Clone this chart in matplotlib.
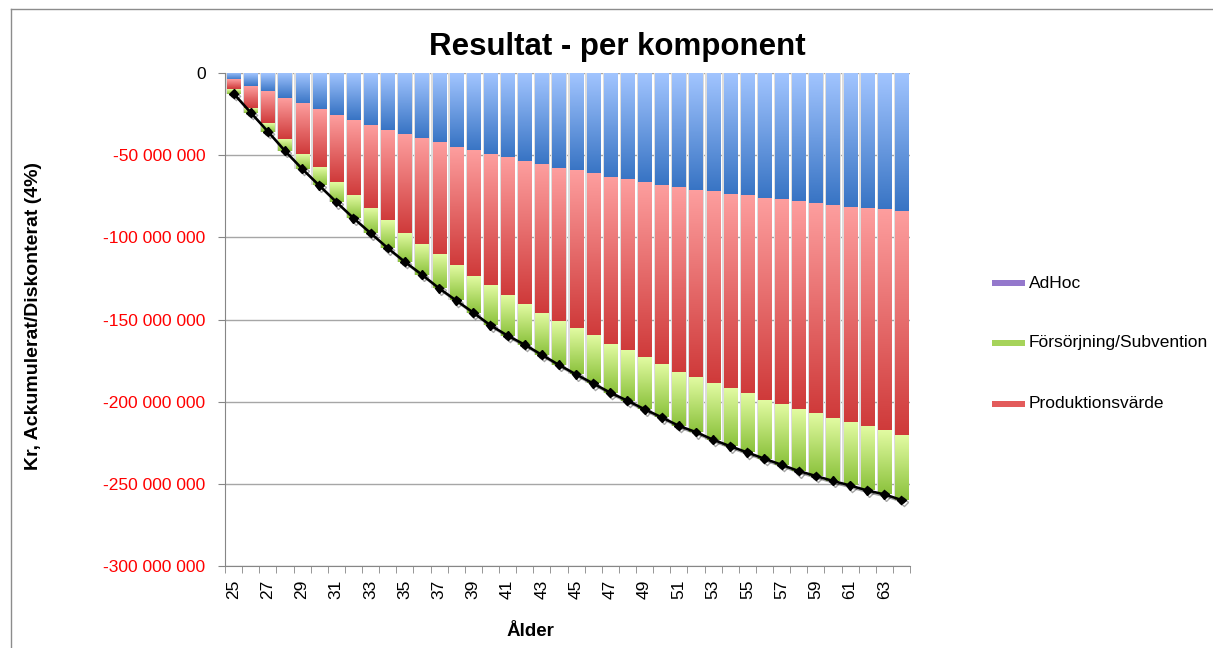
import numpy as np
import matplotlib
matplotlib.use("Agg")
import matplotlib.pyplot as plt
from matplotlib.colors import LinearSegmentedColormap
from matplotlib.patches import Rectangle
from matplotlib.lines import Line2D
import matplotlib.patheffects as pe

plt.rcParams['font.family'] = ['Liberation Sans', 'DejaVu Sans']

# ---------------- data (millions of kr, per age) ----------------
ages = list(range(25, 65))

# blue component (not shown in legend)
blue_vals = [-4.3, -7.9, -11.5, -15.4, -18.8, -22.3, -25.7, -28.5, -32.0, -34.8,
             -37.4, -39.9, -42.7, -44.9, -47.2, -49.4, -51.8, -53.8, -56.1, -58.1,
             -59.5, -61.5, -63.6, -65.2, -66.4, -68.0, -69.6, -70.9, -72.5, -73.7,
             -74.9, -76.1, -77.1, -78.1, -79.4, -80.4, -81.6, -82.6, -83.2, -84.2]

produktionsvarde = [-5.6, -13.2, -19.1, -24.7, -30.6, -35.6, -40.7, -46.2, -50.6, -55.1,
                    -60.1, -64.2, -68.2, -72.4, -76.4, -80.3, -83.5, -86.7, -90.1, -93.2,
                    -96.3, -98.7, -101.2, -103.5, -106.9, -109.5, -112.5, -114.4, -116.3, -118.5,
                    -120.5, -122.9, -124.5, -126.5, -128.0, -129.6, -131.3, -132.7, -134.7, -136.1]

forsorjning = [-2.6, -3.0, -5.0, -7.3, -8.9, -10.5, -12.1, -13.6, -14.8, -16.6,
               -17.4, -18.6, -20.1, -21.1, -22.2, -23.8, -24.5, -24.8, -25.3, -26.3,
               -27.6, -28.7, -29.7, -30.7, -31.3, -32.0, -32.6, -33.2, -34.3, -34.9,
               -35.5, -35.7, -36.8, -37.6, -37.8, -38.2, -38.1, -38.7, -38.5, -39.5]

adhoc = [0.0] * 40

ytick_vals = [0, -50, -100, -150, -200, -250, -300]
xtick_ages = list(range(25, 64, 2))

title = "Resultat - per komponent"
xlabel = "Ålder"
ylabel = "Kr, Ackumulerat/Diskonterat (4%)"
legend_labels = ["AdHoc", "Försörjning/Subvention", "Produktionsvärde"]

# ---------------- figure ----------------
W, H = 1213, 648
fig = plt.figure(figsize=(W / 100, H / 100), dpi=100)
fig.patch.set_facecolor('white')
ax = fig.add_axes([225 / W, 1 - 566 / H, (910 - 225) / W, (566 - 73) / H])

x = np.arange(len(ages))
scale = 1e6
bw = 0.76

segments = [
    (blue_vals, '#a2c5ff', '#3874c4'),
    (produktionsvarde, '#fd9e9e', '#cf3a3a'),
    (forsorjning, '#e2fba2', '#8bc23c'),
    (adhoc, '#b9a3e8', '#7c5fb8'),
]

grad = np.linspace(0, 1, 128)[:, None]
bottom = np.zeros(len(x))
for vals, ctop, cbot in segments:
    v = np.array(vals) * scale
    cmap = LinearSegmentedColormap.from_list('g', [ctop, cbot])
    for xi, b0, h in zip(x, bottom, v):
        if h == 0:
            continue
        ax.imshow(grad, cmap=cmap, extent=(xi - bw / 2, xi + bw / 2, b0 + h, b0),
                  aspect='auto', origin='upper', interpolation='bilinear', zorder=2)
    bottom = bottom + v

total = bottom
# light grey bar edges
ax.bar(x, total, width=0.9, color='#dcdcdc', linewidth=0, zorder=1.5)

ax.plot(x, total, color='black', lw=1.8, marker='D', ms=4.5, zorder=4,
        path_effects=[pe.SimpleLineShadow(offset=(1.5, -1.5), shadow_color='black', alpha=0.35),
                      pe.Normal()])

ax.set_xlim(-0.5, len(x) - 0.5)
ax.set_ylim(-300 * scale, 0)

# y axis
yt = np.array(ytick_vals) * scale
ax.set_yticks(yt)
ylabels = [f"{int(v * 1e6):,}".replace(",", " ") if v != 0 else "0" for v in ytick_vals]
ax.set_yticklabels(ylabels, fontsize=12.5)
for lab, v in zip(ax.get_yticklabels(), ytick_vals):
    lab.set_color('black' if v == 0 else '#ff0000')
ax.tick_params(axis='y', length=5, color='#868686', pad=9)
ax.yaxis.grid(True, color='#a6a6a6', lw=1)
ax.set_axisbelow(True)

# x axis
ax.set_xticks([ages.index(a) for a in xtick_ages])
ax.set_xticklabels([str(a) for a in xtick_ages], rotation=90, fontsize=12.5)
ax.set_xticks(np.arange(-0.5, len(x), 1), minor=True)
ax.tick_params(axis='x', which='major', length=0, pad=10)
ax.tick_params(axis='x', which='minor', length=5, color='#868686')

for s in ['top', 'right']:
    ax.spines[s].set_visible(False)
for s in ['left', 'bottom']:
    ax.spines[s].set_color('#868686')

# texts
fig.text(617 / W, 1 - 47 / H, title, ha='center', va='center', fontsize=22.5, fontweight='bold')
fig.text(530 / W, 1 - 632 / H, xlabel, ha='center', va='center', fontsize=13.5, fontweight='bold')
fig.text(34 / W, 1 - 316 / H, ylabel, ha='center', va='center', rotation=90,
         fontsize=14, fontweight='bold')

# legend (manual)
leg_colors = ['#9478cc', '#a6d35a', '#e35b5b']
leg_y = [283, 343, 404]
for lab, c, yy in zip(legend_labels, leg_colors, leg_y):
    fig.add_artist(Rectangle((992 / W, 1 - (yy + 3) / H), 33 / W, 6 / H,
                             transform=fig.transFigure, facecolor=c, edgecolor='none'))
    fig.text(1029 / W, 1 - yy / H, lab, ha='left', va='center', fontsize=12.5)

# chart border (left & top visible)
fig.add_artist(Line2D([11 / W, 11 / W], [0, 1 - 9 / H], transform=fig.transFigure,
                      color='#8c8c8c', lw=1))
fig.add_artist(Line2D([11 / W, 1], [1 - 9 / H, 1 - 9 / H], transform=fig.transFigure,
                      color='#8c8c8c', lw=1))

fig.savefig("out.png", dpi=100)
